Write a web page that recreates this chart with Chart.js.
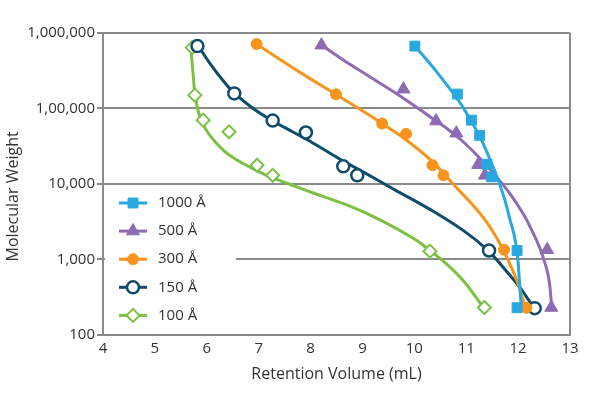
<!DOCTYPE html>
<html>
<head>
<meta charset="utf-8">
<script src="https://cdn.jsdelivr.net/npm/chart.js@4/dist/chart.umd.min.js"></script>
<style>
  html, body { margin: 0; padding: 0; background: #fff; }
  #wrap { width: 600px; height: 399px; position: relative; }
</style>
</head>
<body>
<div id="wrap"><canvas id="gpcChart"></canvas></div>
<script>
// measured points (retention volume mL, molecular weight)
const seriesNames = ['1000 Å', '500 Å', '300 Å', '150 Å', '100 Å'];

const x1000 = [10.01, 10.83, 11.10, 11.26, 11.40, 11.49, 11.98, 11.98];
const y1000 = [670000, 155000, 70000, 44000, 18200, 12400, 1310, 228];
const x500 = [8.21, 9.79, 10.42, 10.81, 11.23, 11.36, 12.56, 12.64];
const y500 = [690000, 180000, 68000, 47000, 18000, 13000, 1340, 230];
const x300 = [6.96, 8.49, 9.38, 9.84, 10.35, 10.56, 11.73, 12.16];
const y300 = [715000, 154000, 63000, 46000, 17700, 13000, 1340, 228];
const x150 = [5.82, 6.53, 7.27, 7.91, 8.63, 8.90, 11.44, 12.32];
const y150 = [670000, 158000, 69000, 48000, 17100, 13000, 1310, 225];
const x100 = [5.72, 5.77, 5.93, 6.43, 6.97, 7.27, 10.30, 11.35];
const y100 = [640000, 150000, 70000, 49000, 17700, 13000, 1285, 230];

// calibration curves
const fitX1000 = [10.01, 10.435, 10.846, 11.008, 11.264, 11.457, 11.617, 11.746, 11.842, 11.929, 11.987, 12.025, 12.06];
const fitY1000 = [671000, 303000, 129000, 85900, 42000, 21200, 11200, 6050, 3390, 2020, 1130, 525, 232];
const fitX500 = [8.21, 8.63, 9.141, 9.79, 10.30, 10.686, 10.942, 11.264, 11.586, 11.842, 12.098, 12.227, 12.42, 12.58, 12.649];
const fitY500 = [693000, 438000, 263000, 137000, 77800, 50700, 36200, 21900, 12400, 7430, 4030, 2740, 1400, 611, 232];
const fitX300 = [6.96, 7.41, 7.92, 8.50, 8.82, 9.37, 9.84, 10.36, 10.75, 11.07, 11.39, 11.65, 11.84, 12.00, 12.13];
const fitY300 = [715000, 447000, 266000, 152000, 111000, 63800, 38500, 19400, 9890, 5780, 3140, 1610, 871, 474, 232];
const fitX150 = [5.84, 6.06, 6.32, 6.54, 6.90, 7.28, 7.67, 7.99, 8.57, 9.02, 9.66, 10.30, 10.94, 11.39, 11.71, 12.03, 12.29];
const fitY150 = [670000, 396000, 231000, 157000, 99300, 67800, 48400, 36800, 21200, 14300, 8090, 4600, 2420, 1370, 787, 428, 234];
const fitX100 = [5.69, 5.73, 5.78, 5.87, 6.03, 6.32, 6.70, 7.15, 7.60, 8.05, 8.70, 9.34, 9.98, 10.30, 10.62, 10.94, 11.33];
const fitY100 = [650000, 323000, 143000, 77000, 46600, 27900, 18600, 13000, 9900, 7570, 5260, 3340, 1900, 1310, 871, 524, 232];

const xTicks = [4, 5, 6, 7, 8, 9, 10, 11, 12, 13];
const yTickValues = [100, 1000, 10000, 100000, 1000000];
const yTickLabels = ['100', '1,000', '10,000', '1,00,000', '1,000,000'];

const colors = ['#27a8e0', '#8e6bb2', '#f7941e', '#0f4c6c', '#7bc143'];
const gridGray = '#8a8a8a';
const textColor = '#333333';

const toPts = (xs, ys) => xs.map((x, i) => ({ x: x, y: ys[i] }));

const markerStyles = [
  { pointStyle: 'rect', radius: 7, fill: colors[0], borderWidth: 1 },
  { pointStyle: 'triangle', radius: 7.5, fill: colors[1], borderWidth: 1 },
  { pointStyle: 'circle', radius: 5.5, fill: colors[2], borderWidth: 1 },
  { pointStyle: 'circle', radius: 6, fill: '#ffffff', borderWidth: 2.5 },
  { pointStyle: 'rectRot', radius: 6.5, fill: '#ffffff', borderWidth: 2 }
];

const pointSets = [[x1000, y1000], [x500, y500], [x300, y300], [x150, y150], [x100, y100]];
const fitSets = [[fitX1000, fitY1000], [fitX500, fitY500], [fitX300, fitY300], [fitX150, fitY150], [fitX100, fitY100]];

const datasets = [];
fitSets.forEach((s, i) => {
  datasets.push({
    label: seriesNames[i] + ' fit',
    data: toPts(s[0], s[1]),
    showLine: true,
    borderColor: colors[i],
    borderWidth: 3,
    pointRadius: 0,
    tension: 0.4,
    order: 10 + i
  });
});
pointSets.forEach((s, i) => {
  const m = markerStyles[i];
  datasets.push({
    label: seriesNames[i],
    data: toPts(s[0], s[1]),
    showLine: false,
    pointStyle: m.pointStyle,
    pointRadius: m.radius,
    pointHoverRadius: m.radius,
    pointBackgroundColor: m.fill,
    pointBorderColor: colors[i],
    pointBorderWidth: m.borderWidth,
    order: i
  });
});

// legend sits inside the plot, on a white box that hides the grid behind it
const boxLegend = {
  id: 'boxLegend',
  beforeDatasetsDraw(chart) {
    const { ctx, chartArea } = chart;
    ctx.save();
    ctx.fillStyle = '#ffffff';
    ctx.fillRect(chartArea.left + 2, chartArea.top + 156, 131, chartArea.bottom - chartArea.top - 158);
    ctx.restore();
  },
  afterDatasetsDraw(chart) {
    const { ctx, chartArea } = chart;
    const x0 = chartArea.left + 16;
    ctx.save();
    seriesNames.forEach((name, i) => {
      const y = chartArea.top + 170 + i * 28.1;
      const m = markerStyles[i];
      ctx.strokeStyle = colors[i];
      ctx.lineWidth = 3;
      ctx.beginPath();
      ctx.moveTo(x0, y);
      ctx.lineTo(x0 + 28, y);
      ctx.stroke();
      ctx.fillStyle = m.fill;
      ctx.lineWidth = m.borderWidth;
      Chart.helpers.drawPoint(ctx, { pointStyle: m.pointStyle, radius: m.radius, borderWidth: m.borderWidth, rotation: 0 }, x0 + 14, y);
      ctx.fillStyle = textColor;
      ctx.font = "15px 'Open Sans'";
      ctx.textAlign = 'left';
      ctx.textBaseline = 'middle';
      ctx.fillText(name, x0 + 39, y);
    });
    ctx.restore();
  }
};

Chart.defaults.font.family = "'Open Sans', sans-serif";
Chart.defaults.font.size = 15;
Chart.defaults.color = textColor;

new Chart(document.getElementById('gpcChart'), {
  type: 'scatter',
  data: { datasets: datasets },
  options: {
    responsive: true,
    maintainAspectRatio: false,
    animation: false,
    layout: { padding: { top: 33, right: 30, bottom: 11, left: 0 } },
    plugins: {
      legend: { display: false },
      tooltip: { enabled: false }
    },
    scales: {
      x: {
        type: 'linear',
        min: xTicks[0],
        max: xTicks[xTicks.length - 1],
        afterBuildTicks: scale => { scale.ticks = xTicks.map(v => ({ value: v })); },
        ticks: { padding: 5, color: textColor, font: { size: 15 } },
        grid: {
          drawTicks: false,
          lineWidth: 2,
          color: ctx => (ctx.tick && ctx.tick.value === xTicks[xTicks.length - 1]) ? gridGray : 'rgba(0,0,0,0)'
        },
        border: { color: gridGray, width: 2 },
        title: {
          display: true,
          text: 'Retention Volume (mL)',
          color: textColor,
          font: { size: 16 },
          padding: { top: 2, bottom: 4 }
        }
      },
      y: {
        type: 'logarithmic',
        min: yTickValues[0],
        max: yTickValues[yTickValues.length - 1],
        afterBuildTicks: scale => { scale.ticks = yTickValues.map(v => ({ value: v })); },
        afterFit: scale => { scale.width = 103; },
        ticks: {
          padding: 2,
          color: textColor,
          font: { size: 15 },
          callback: v => yTickLabels[yTickValues.indexOf(v)]
        },
        grid: { color: gridGray, lineWidth: 2, tickLength: 6 },
        border: { color: gridGray, width: 2 },
        title: {
          display: true,
          text: 'Molecular Weight      ',
          color: textColor,
          font: { size: 16 },
          padding: { top: 4, bottom: 4 }
        }
      }
    }
  },
  plugins: [boxLegend]
});
</script>
</body>
</html>
